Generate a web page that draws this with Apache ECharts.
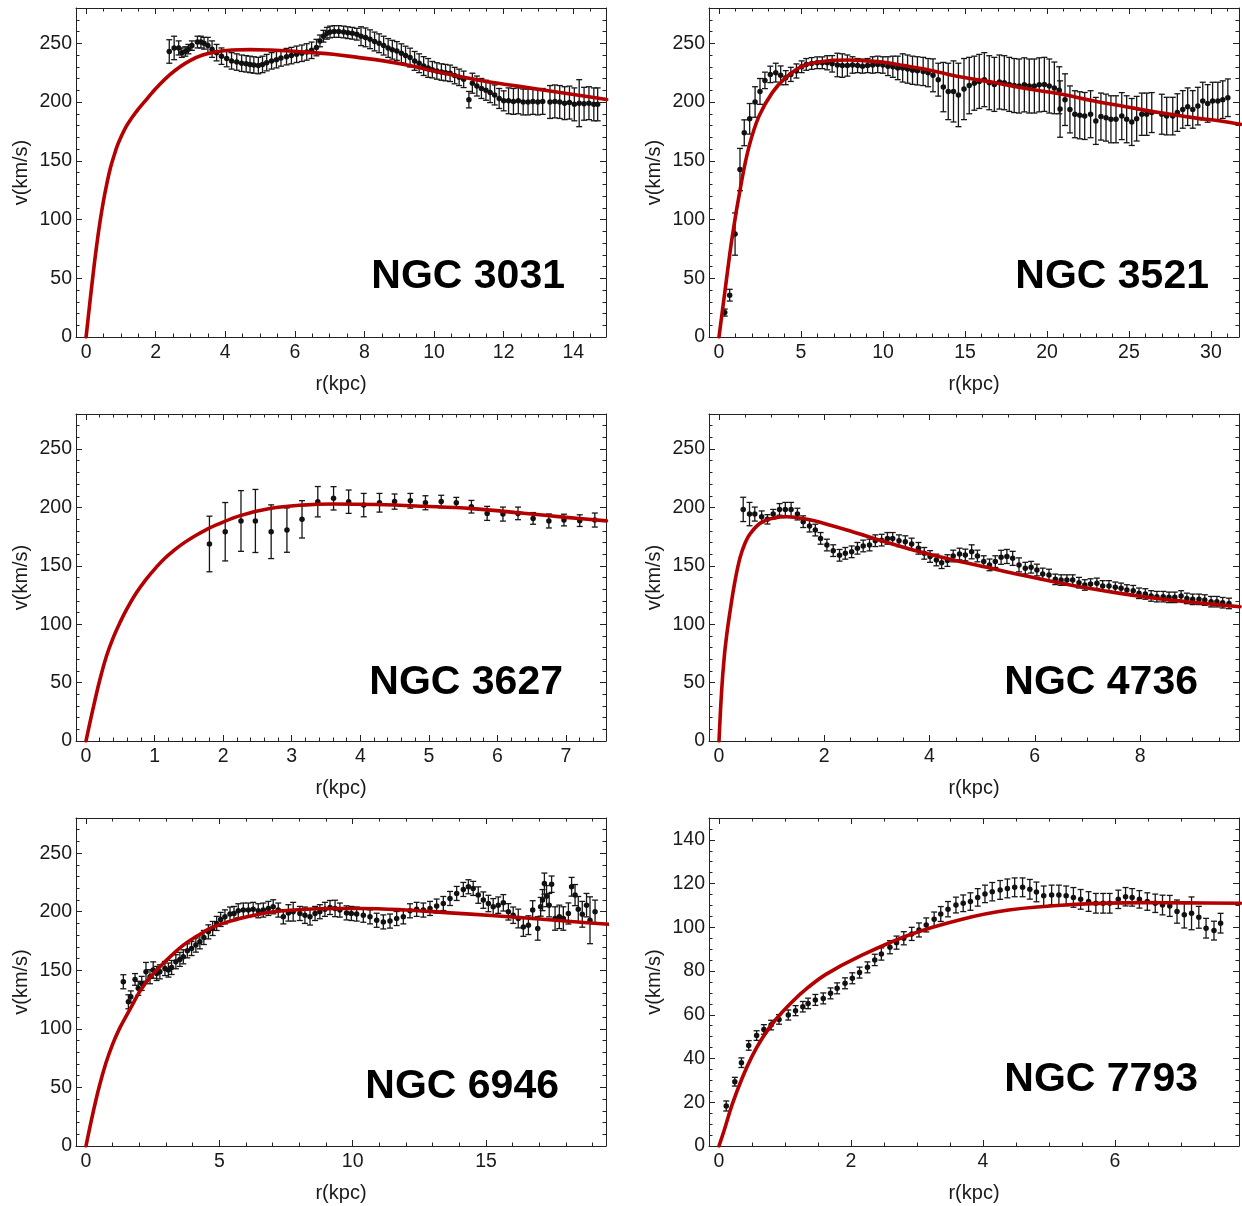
<!DOCTYPE html>
<html><head><meta charset="utf-8">
<script src="https://cdn.jsdelivr.net/npm/echarts@6/dist/echarts.min.js"></script>
<style>html,body{margin:0;padding:0;background:#fff}#c{width:1242px;height:1206px}</style>
</head><body><div id="c"></div>
<script>
// ---------- NGC 3031 ----------
const n3031_r = [2.39,2.53,2.66,2.75,2.85,2.94,3.04,3.2,3.3,3.39,3.5,3.62,3.75,3.89,4.04,4.18,4.33,4.47,4.6,4.71,4.82,4.95,5.07,5.19,5.33,5.47,5.6,5.76,5.9,6.05,6.2,6.34,6.48,6.62,6.72,6.82,6.92,7.01,7.13,7.26,7.4,7.52,7.65,7.78,7.9,8.03,8.16,8.29,8.42,8.55,8.68,8.8,8.93,9.06,9.18,9.31,9.44,9.57,9.7,9.83,9.95,10.08,10.21,10.33,10.46,10.59,10.72,10.85,11.0,11.1,11.23,11.36,11.49,11.61,11.74,11.87,12.0,12.14,12.28,12.42,12.56,12.7,12.84,12.98,13.12,13.33,13.47,13.61,13.75,13.89,14.03,14.17,14.31,14.45,14.59,14.7];
const n3031_v = [243,246,246,242,243,245,248,251,251,250,248,245,242,239,237,235,234,233,232.5,232,231.5,231,232,233.5,235,236,237.5,238.6,239.5,240.6,241.5,242.6,244,246.3,252,256,258.5,259.6,260,260,259.6,259,258.5,257.7,256,255,253.4,251.5,250,248,246,244.5,243.4,241.5,239.5,237.8,235,233,230.6,229,227.5,226.4,225.5,225,224.4,222.5,221,219.3,202,216,213.6,211.5,210,208,206,203,201,201,200.5,201,200,200,200.5,200,200.5,200,200.5,200,199,199.5,198,199,198.5,199,198,198];
const n3031_e = [10,10,6,4,4,4,4,5,5,5,7,7,7,7,7,7,7,7,7,7,7,7,7,7,7,7,7,7,7,7,7,7,7,7,5,5,5,5,5,5,5,5,5,5,8,8,8,8,8,8,8,8,8,8,8,8,8,8,8,8,7,7,7,7,7,7,7,7,7,8.5,8.5,8.5,8.5,8.5,8.5,8.5,8.5,11,11,11,11,11,11,11,11,14,14,14,14,14,14,20,14,14,14,14];
const n3031_fitR = [0,0.1,0.2,0.3,0.4,0.5,0.6,0.7,0.8,0.9,1.0,1.15,1.3,1.5,1.7,1.9,2.1,2.4,2.7,3.0,3.35,3.75,4.2,4.71,5.3,5.86,6.5,7.1,7.8,8.55,9.3,9.98,10.7,11.42,12.4,13.33,14.2,14.96];
const n3031_fitV = [0,27,53,77,98,116,131,144,154,163,170,179,186,194,201,208,214.5,223,230,235.5,240,242.8,244.2,244.6,244.2,243.4,242,240.6,238,235,231,226.4,222,217.8,213.5,209.3,205.5,202.2];

// ---------- NGC 3521 ----------
const n3521_r = [0.35,0.65,0.98,1.28,1.54,1.87,2.2,2.5,2.8,3.13,3.46,3.76,4.07,4.38,4.72,5.04,5.32,5.65,5.99,6.3,6.6,6.9,7.22,7.52,7.83,8.14,8.45,8.75,9.06,9.37,9.68,9.99,10.3,10.6,10.9,11.2,11.5,11.8,12.1,12.45,12.75,13.05,13.37,13.68,13.98,14.3,14.6,14.94,15.26,15.57,15.87,16.18,16.48,16.79,17.1,17.4,17.7,18.0,18.3,18.62,18.92,19.23,19.53,19.84,20.14,20.45,20.75,20.8,21.1,21.4,21.7,22.0,22.3,22.66,22.98,23.29,23.6,23.9,24.21,24.56,24.86,25.17,25.47,25.78,26.08,26.39,27.0,27.3,27.67,27.95,28.28,28.58,28.89,29.2,29.5,29.8,30.1,30.42,30.72,31.03];
const n3521_v = [20.8,35.6,87.6,142.5,173.8,185.7,200,209,218.4,223.5,225,222.7,220.7,223.5,226.4,230,232,232.8,233.4,233.4,233.4,232.5,231.5,231,231,231.5,231,230.5,231,231.5,232,231.5,230.5,230,229,229,228,227,226.5,226,225,222.7,219,212.7,209,209,206,211,214,216,217.5,219,216.4,215,217,216.4,215,214,213.6,214.6,213.6,213.6,214.6,215,213.6,212,210,194,202,193.7,189.6,188.7,188.1,189.6,183.9,187.6,186.7,185.3,185.3,188,185.3,183,185.8,189.6,189.6,191,189.6,188,188,191,193.7,196,193.7,196.5,200.8,198.8,200.8,200.8,202,203.6];
const n3521_e = [3,5,18,18,11,13,13,11,7,7,8,8,6,6,6,5,5,5,5,5,6,7,10,10,9,7,6,6,6,7,7,7,8,9,10,12,12,12,12,12,12,14,14,21,24,26,27,26,24,23,23,23,23,23,23,23,23,23,23,23,23,23,23,23,23,22,20,24,22,20,20,20,20,20,20,20,20,20,20,20,20,20,19,18,18,17,17,16,16,16,16,16,16,16,16,16,16,16,16,16];
const n3521_fitR = [0,0.4,0.81,1.32,1.83,2.44,3.25,4.07,5.08,6.1,7.0,7.93,9.0,9.96,11.3,12.6,14.0,15.04,17.0,18.9,20.75,22.8,24.8,26.85,29.0,30.5,31.8];
const n3521_fitV = [0,43,85.6,128,162,188,208,220.7,230.6,234,235.5,235.8,235,234,231,227.8,223.5,220.7,216,211,207,201,196,191,186.5,184,181];

// ---------- NGC 3627 ----------
const n3627_r = [1.8,2.03,2.26,2.47,2.7,2.93,3.15,3.38,3.61,3.83,4.05,4.28,4.5,4.73,4.95,5.18,5.4,5.62,5.85,6.08,6.3,6.52,6.75,6.97,7.2,7.42];
const n3627_v = [168.7,179.2,188.4,188.4,179.2,180.6,189.8,204.9,207.8,204.9,202,204,205,205.7,204,205,204,200.6,194.9,194.3,194.9,190.6,188.4,189.2,188.7,189.2];
const n3627_e = [23.8,25,26,27,23,19,16,13,10,10,10,8,6.5,6.3,6,5.4,4.6,5.4,6,6,5.4,5,6,5,5,6];
const n3627_fitR = [0,0.1,0.2,0.3,0.4,0.5,0.6,0.73,0.87,1.02,1.15,1.31,1.45,1.6,1.75,1.9,2.25,2.68,3.15,3.61,4.24,4.92,5.62,6.38,7.0,7.59];
const n3627_fitV = [0,27,52,73,89,102,113.5,126.5,138,148.5,156.5,164.5,170.5,176,180.8,185,193,199,202,203,202.5,201,199,195,191.5,188.5];

// ---------- NGC 4736 ----------
const n4736_r = [0.46,0.58,0.68,0.81,0.92,1.03,1.15,1.26,1.37,1.49,1.6,1.72,1.83,1.93,2.05,2.17,2.29,2.4,2.52,2.63,2.74,2.86,2.97,3.09,3.2,3.3,3.42,3.54,3.66,3.79,3.9,4.01,4.13,4.23,4.34,4.45,4.57,4.68,4.8,4.91,5.03,5.14,5.25,5.36,5.47,5.58,5.7,5.82,5.93,6.04,6.15,6.27,6.39,6.5,6.61,6.72,6.84,6.95,7.06,7.18,7.29,7.41,7.53,7.64,7.75,7.87,7.98,8.1,8.21,8.32,8.44,8.55,8.66,8.78,8.89,9.0,9.12,9.23,9.35,9.46,9.57,9.69];
const n4736_v = [198.3,194.3,194.3,192,189.8,194.3,198.3,198.3,198.3,194.3,187.8,184,180.6,173.5,167.8,163,159,160.7,162,165,167,167.8,171.5,172,173.5,173.5,171.5,170.7,168.7,165,160.7,158,155,152.7,154.5,158.4,160.1,159.3,162,158.4,153.6,150.8,153.6,157.3,158,156.4,150.8,148,148.8,146.4,143,142.1,138.4,137.8,137.8,137.8,135.6,133.6,134.4,135,132.8,132.8,131.6,130.7,129.3,128.7,126.5,125.9,124.2,123.6,123.6,123,123,124.2,122.1,121.3,121.3,120.7,119.3,119.3,118.4,117.8];
const n4736_e = [10.4,10,6,5,4,4,5,6,6,5,5,5,5,5,5,5,5,5,5,5,5,5,5,5,5,5,5,5,5,5,5,5,5,5,5,5,5,5,6,5,5,5,5,6,6,6,6,5,5,5,5,5,4.5,4.5,4.5,4.5,4.5,4.5,4.5,4.5,4.5,4.5,4.5,4.5,4.5,4.5,4.5,4.5,4.5,4.5,4.5,4.5,4.5,4.5,4.5,4.5,4.5,4.5,4.5,4.5,4.5,4.5];
const n4736_fitR = [0,0.05,0.1,0.15,0.2,0.3,0.4,0.5,0.6,0.8,1.05,1.29,1.67,2.1,2.55,3.2,3.82,4.45,5.09,5.7,6.36,7.0,7.62,8.25,8.89,9.4,9.9];
const n4736_fitV = [0,43,72,92,108,136,157,170,178,187,191,192,189.8,185,179,170,162,155,148.7,142.5,136.4,131,126.4,122.5,119.3,117,115];

// ---------- NGC 6946 ----------
const n6946_r = [1.4,1.59,1.68,1.84,1.96,2.09,2.25,2.4,2.52,2.65,2.77,2.96,3.09,3.21,3.37,3.52,3.65,3.8,3.96,4.12,4.27,4.42,4.59,4.75,4.9,5.05,5.21,5.4,5.55,5.71,5.9,6.09,6.27,6.46,6.65,6.84,7.02,7.21,7.4,7.59,7.77,8.02,8.21,8.4,8.59,8.77,8.96,9.15,9.34,9.52,9.77,9.95,10.15,10.4,10.65,10.9,11.15,11.4,11.65,11.9,12.15,12.4,12.65,12.9,13.15,13.4,13.65,13.9,14.15,14.34,14.52,14.71,14.9,15.09,15.27,15.46,15.65,15.84,16.02,16.21,16.4,16.59,16.75,16.94,17.05,17.12,17.19,17.27,17.37,17.46,17.59,17.75,17.9,18.09,18.21,18.34,18.46,18.61,18.77,18.9,19.09];
const n6946_v = [140.2,123.1,127.4,142.2,134.6,138.8,148.7,144.5,150.2,147.3,148.7,151.5,150.2,152.4,157.3,159.3,161.5,166.6,168.6,171.5,174.3,178,182.8,185.7,190,193.4,195.6,198,198.5,200.8,201.4,201.4,202,200.8,201.4,202.8,204.2,201.4,195.6,199,200,198.5,197,195.6,198.5,200,202,203.6,202.8,201.4,199,198.5,198,197,195.6,192.7,191.3,192,194.2,195.6,200.8,202,201.4,202.8,204.8,207,211.3,215.6,219,221.3,219.9,214.2,209.9,207,204.2,205.6,207.6,199.9,197,194.2,187,188.5,201.4,185.7,204.2,209.9,224,213.3,205.6,223.5,194.2,195.6,194.2,198.5,221.3,214.2,202,197.8,205.6,192.7,199.9];
const n6946_e = [6,6,5,5,6,6,8,6,7,6,6,6,6,6,6,6,6,6,6,6,6,6,6,6,6,6,6,6,6,6,6,6,6,6,6,6,6,6,6,7,8,6,7,7,6,6,6,6,7,6,6,6,6,6,6,6,6,6,6,6,6,6,6,6,6,6,6,6,6,6,6,7,7,7,7,7,7,7,7,8,8,8,8,10,8,9,9,9,10,7,10,10,10,9,8,9,11,11,10,20,10];
const n6946_fitR = [0,0.25,0.5,0.75,1.0,1.25,1.46,1.75,2.02,2.4,2.77,3.2,3.65,4.15,4.65,5.2,5.77,6.4,7.02,7.8,8.65,9.5,10.3,12.0,13.65,15.2,16.77,18.2,19.6];
const n6946_fitV = [0,27,51,71,87,100,109,121,132,144,153,162.5,171.5,179,185.7,190.5,194.2,197.5,200,201.5,202.5,202.8,202.8,201.5,199,196.8,194.2,191.6,189.3];

// ---------- NGC 7793 ----------
const n7793_r = [0.11,0.24,0.34,0.45,0.57,0.68,0.79,0.91,1.05,1.16,1.27,1.35,1.46,1.58,1.69,1.79,1.91,2.02,2.13,2.25,2.36,2.46,2.59,2.69,2.8,2.92,3.03,3.14,3.26,3.36,3.47,3.59,3.7,3.81,3.92,4.03,4.14,4.26,4.37,4.48,4.6,4.71,4.81,4.92,5.04,5.15,5.26,5.37,5.48,5.6,5.71,5.82,5.92,6.05,6.16,6.26,6.37,6.49,6.61,6.72,6.83,6.94,7.05,7.16,7.27,7.38,7.5,7.6];
const n7793_v = [18.3,29.4,38.1,46,50.5,53.3,55.3,57.9,59.9,61.9,63.7,65.2,66.8,67.5,69.8,72.1,74.4,76.7,79.3,81.7,85.1,87.8,90.9,93,95,97,98.8,101.1,103.7,106.1,108.3,110.2,111,111.8,113.7,115.3,116.3,117.1,117.8,118.3,118.3,117.4,116.2,114.4,114.8,114.8,114.4,113.7,112.8,111.8,111,111,111,112.8,114,113.7,112.8,111.8,111,110.2,109.8,107.2,105.7,106.4,104.6,99.6,98.5,101.9];
const n7793_e = [2.3,2,2.2,2.2,2.2,2.2,2.2,2.2,2.3,2.3,2.4,2.4,2.5,2.5,2.5,2.5,2.5,2.5,2.5,2.5,2.6,2.8,3,3,3,3,3.2,3.2,3.3,3.4,3.5,3.6,3.8,4,4,4,4.2,4.3,4.3,4.3,4.3,4.5,4.5,4.5,4.5,4.5,4.5,4.5,4.5,4.5,4.5,4.5,4.5,4.2,4.2,4,4,4,4.2,4.5,4.8,5.3,6,7.5,5,4.5,4.3,4.5];
const n7793_fitR = [0,0.08,0.2,0.35,0.5,0.66,0.85,1.11,1.35,1.62,2.12,2.88,3.64,4.39,5.4,6.41,7.1,7.9];
const n7793_fitV = [0,7.3,19,31,41,49.5,57.5,66,72.5,78.5,86.6,96.5,103.4,107.9,110.5,111.3,111.2,111];

// ---------- tick labels ----------
const ticksX_3031 = [0,2,4,6,8,10,12,14];
const ticksX_3521 = [0,5,10,15,20,25,30];
const ticksX_3627 = [0,1,2,3,4,5,6,7];
const ticksX_4736 = [0,2,4,6,8];
const ticksX_6946 = [0,5,10,15];
const ticksX_7793 = [0,2,4,6];
const ticksY_v = [0,50,100,150,200,250];
const ticksY_7793 = [0,20,40,60,80,100,120,140];

const FONT = '"Liberation Sans", Arial, Helvetica, sans-serif';
const AX = '#222';
const TXT = '#1a1a1a';

const panels = [
  {title:'NGC 3031', r:n3031_r, v:n3031_v, e:n3031_e, fr:n3031_fitR, fv:n3031_fitV,
   grid:{left:76, top:8, width:530, height:329}, x:[-0.29,14.94], xMaj:ticksX_3031, xMin:0.5,
   y:[0,280], yMaj:ticksY_v, yMin:10, lab:[565,277]},
  {title:'NGC 3521', r:n3521_r, v:n3521_v, e:n3521_e, fr:n3521_fitR, fv:n3521_fitV,
   grid:{left:709, top:8, width:530, height:329}, x:[-0.61,31.71], xMaj:ticksX_3521, xMin:1,
   y:[0,280], yMaj:ticksY_v, yMin:10, lab:[1209,277]},
  {title:'NGC 3627', r:n3627_r, v:n3627_v, e:n3627_e, fr:n3627_fitR, fv:n3627_fitV,
   grid:{left:76, top:414, width:530, height:327}, x:[-0.146,7.583], xMaj:ticksX_3627, xMin:0.2,
   y:[0,280], yMaj:ticksY_v, yMin:10, lab:[563,683]},
  {title:'NGC 4736', r:n4736_r, v:n4736_v, e:n4736_e, fr:n4736_fitR, fv:n4736_fitV,
   grid:{left:709, top:414, width:530, height:327}, x:[-0.19,9.88], xMaj:ticksX_4736, xMin:0.5,
   y:[0,280], yMaj:ticksY_v, yMin:10, lab:[1198,683]},
  {title:'NGC 6946', r:n6946_r, v:n6946_v, e:n6946_e, fr:n6946_fitR, fv:n6946_fitV,
   grid:{left:76, top:818, width:530, height:328}, x:[-0.375,19.5], xMaj:ticksX_6946, xMin:1,
   y:[0,280], yMaj:ticksY_v, yMin:10, lab:[559,1087]},
  {title:'NGC 7793', r:n7793_r, v:n7793_v, e:n7793_e, fr:n7793_fitR, fv:n7793_fitV,
   grid:{left:709, top:818, width:530, height:328}, x:[-0.1515,7.879], xMaj:ticksX_7793, xMin:0.5,
   y:[0,150], yMaj:ticksY_7793, yMin:5, lab:[1198,1080]}
];

function minorTicks(lo, hi, step, majors) {
  const out = [];
  const k0 = Math.ceil(lo / step - 1e-9);
  for (let k = k0; k * step <= hi + 1e-9; k++) {
    const t = +(k * step).toFixed(6);
    if (!majors.some(m => Math.abs(m - t) < 1e-9)) out.push(t);
  }
  return out;
}

const grids = [], xAxes = [], yAxes = [], series = [], graphics = [];
panels.forEach((p, i) => {
  grids.push(Object.assign({containLabel:false}, p.grid));
  const xb = {gridIndex:i, type:'value', min:p.x[0], max:p.x[1], splitLine:{show:false}, axisPointer:{show:false}};
  const yb = {gridIndex:i, type:'value', min:p.y[0], max:p.y[1], splitLine:{show:false}, axisPointer:{show:false}};
  const xm = minorTicks(p.x[0], p.x[1], p.xMin, p.xMaj);
  const ym = minorTicks(p.y[0], p.y[1], p.yMin, p.yMaj);
  const line = {show:true, onZero:false, lineStyle:{color:AX, width:1}};
  const noLine = {show:false, onZero:false};
  const maj = vals => ({show:true, inside:true, length:6, customValues:vals, lineStyle:{color:AX, width:1}});
  const mnr = vals => ({show:true, inside:true, length:3.5, customValues:vals, lineStyle:{color:AX, width:1}});
  xAxes.push(Object.assign({}, xb, {position:'bottom', axisLine:line, axisTick:maj(p.xMaj),
    axisLabel:{show:true, customValues:p.xMaj, fontSize:19.5, color:TXT, fontFamily:FONT, margin:6},
    name:'r(kpc)', nameLocation:'middle', nameGap:37, nameTextStyle:{fontSize:20, color:TXT, fontFamily:FONT}}));
  xAxes.push(Object.assign({}, xb, {position:'bottom', axisLine:noLine, axisTick:mnr(xm), axisLabel:{show:false}}));
  xAxes.push(Object.assign({}, xb, {position:'top', axisLine:line, axisTick:maj(p.xMaj), axisLabel:{show:false}}));
  xAxes.push(Object.assign({}, xb, {position:'top', axisLine:noLine, axisTick:mnr(xm), axisLabel:{show:false}}));
  yAxes.push(Object.assign({}, yb, {position:'left', axisLine:line, axisTick:maj(p.yMaj),
    axisLabel:{show:true, customValues:p.yMaj, fontSize:19.5, color:TXT, fontFamily:FONT, margin:4},
    name:'v(km/s)', nameLocation:'middle', nameGap:45, nameTextStyle:{fontSize:20, color:TXT, fontFamily:FONT}}));
  yAxes.push(Object.assign({}, yb, {position:'left', axisLine:noLine, axisTick:mnr(ym), axisLabel:{show:false}}));
  yAxes.push(Object.assign({}, yb, {position:'right', axisLine:line, axisTick:maj(p.yMaj), axisLabel:{show:false}}));
  yAxes.push(Object.assign({}, yb, {position:'right', axisLine:noLine, axisTick:mnr(ym), axisLabel:{show:false}}));

  const ax = 4 * i;
  series.push({
    type:'custom', xAxisIndex:ax, yAxisIndex:ax, silent:true, z:2,
    data:p.r.map((r, k) => [r, p.v[k] - p.e[k], p.v[k] + p.e[k]]),
    encode:{x:0, y:[1,2]},
    renderItem:(params, api) => {
      const x = api.value(0);
      const a = api.coord([x, api.value(1)]);
      const b = api.coord([x, api.value(2)]);
      const hw = 3;
      const st = {stroke:'#161616', lineWidth:1.3};
      return {type:'group', children:[
        {type:'line', shape:{x1:a[0], y1:a[1], x2:b[0], y2:b[1]}, style:st},
        {type:'line', shape:{x1:a[0]-hw, y1:a[1], x2:a[0]+hw, y2:a[1]}, style:st},
        {type:'line', shape:{x1:b[0]-hw, y1:b[1], x2:b[0]+hw, y2:b[1]}, style:st}
      ]};
    }
  });
  series.push({
    type:'scatter', xAxisIndex:ax, yAxisIndex:ax, silent:true, z:3,
    symbol:'circle', symbolSize:5.5, itemStyle:{color:'#111', opacity:1},
    data:p.r.map((r, k) => [r, p.v[k]])
  });
  series.push({
    type:'line', xAxisIndex:ax, yAxisIndex:ax, silent:true, z:4,
    showSymbol:false, smooth:0.4, clip:true,
    lineStyle:{color:'#b40000', width:3.6, cap:'round', join:'round'},
    data:p.fr.map((r, k) => [r, p.fv[k]])
  });
  graphics.push({type:'text', x:p.lab[0], y:p.lab[1], z:100, silent:true,
    style:{text:p.title, font:'bold 41px ' + FONT, fill:'#000', align:'right', verticalAlign:'middle', textAlign:'right', textVerticalAlign:'middle'}});
});

const chart = echarts.init(document.getElementById('c'), null, {renderer:'canvas'});
chart.setOption({
  animation:false,
  backgroundColor:'#fff',
  grid:grids, xAxis:xAxes, yAxis:yAxes, series:series, graphic:graphics
});
</script>
</body></html>
